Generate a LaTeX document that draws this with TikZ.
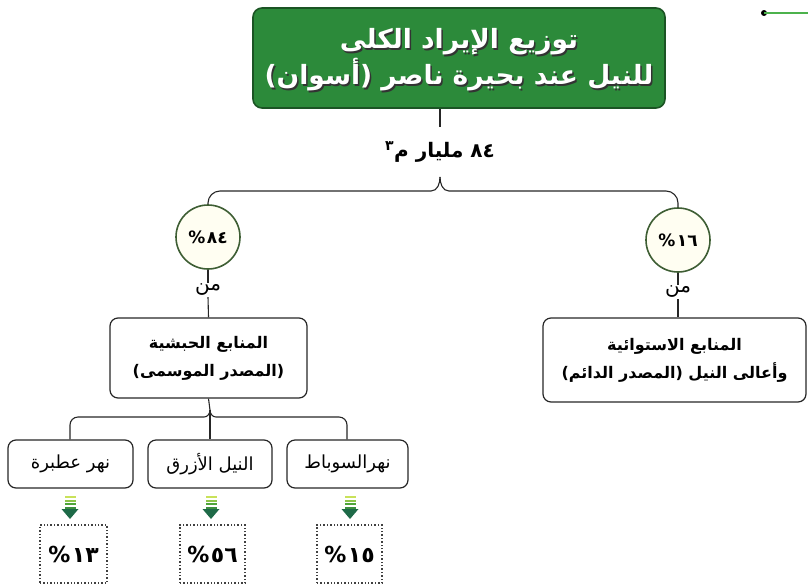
\documentclass[tikz,border=0pt]{standalone}
\usepackage{fontspec}
\TeXXeTstate=1
\newfontfamily\ar[Script=Arabic]{DejaVu Sans}
\newcommand{\RL}[1]{\beginR #1\endR}
\newcommand{\pctnum}[1]{\hbox{\%}\kern1.5pt\hbox{#1}}
\definecolor{titlegreen}{HTML}{2C8A3A}
\definecolor{titleedge}{HTML}{1B5424}
\definecolor{ringgreen}{HTML}{3E5E34}
\definecolor{arrowtop}{HTML}{C9E25A}
\definecolor{arrowmid}{HTML}{4FA53A}
\definecolor{arrowhead}{HTML}{1E6A48}
\begin{document}
\begin{tikzpicture}[x=1pt,y=-1pt,
  conn/.style={draw=black!85, line width=1.1pt},
  titlebox/.style={draw=titleedge, fill=titlegreen, rounded corners=9pt, line width=1.6pt, minimum width=412pt, minimum height=100pt},
  titletext/.style={align=center, font=\ar\bfseries\fontsize{26.5}{36}\selectfont, inner sep=0pt},
  pctc/.style={circle, draw=ringgreen, line width=1.6pt, fill=yellow!5, minimum size=64pt, inner sep=0pt, font=\ar\bfseries\fontsize{17}{20}\selectfont},
  mintext/.style={font=\ar\fontsize{20}{22}\selectfont, inner sep=1pt},
  srcbox/.style={draw=black!85, rounded corners=8pt, line width=1.2pt, align=center, font=\ar\bfseries\fontsize{16}{28}\selectfont},
  rivbox/.style={draw=black!85, rounded corners=8pt, line width=1.2pt, minimum height=48pt, font=\ar\fontsize{18}{20}\selectfont},
  dotbox/.style={draw=black!75, dotted, line width=1.4pt, minimum height=58pt, font=\ar\bfseries\fontsize{22}{24}\selectfont}
]
\useasboundingbox (0,0) rectangle (808,584);

% title
\node[titlebox] (title) at (459,58) {};
\node[titletext, text=black!80] (titleshadow) at (460.5,61.5) {\RL{توزيع الإيراد الكلى}\\\RL{للنيل عند بحيرة ناصر (أسوان)}};
\node[titletext, text=white] (titlet) at (459,60) {\RL{توزيع الإيراد الكلى}\\\RL{للنيل عند بحيرة ناصر (أسوان)}};

% total
\coordinate (tip) at (440,177);
\coordinate (titlelow) at (440,127);
\draw[conn] (tip |- title.south) -- (titlelow);
\node[font=\ar\bfseries\fontsize{20}{24}\selectfont] (total) at (440,152) {\RL{٨٤ مليار م\textsuperscript{٣}}};

% circles
\node[pctc] (c84) at (208,237) {\pctnum{٨٤}};
\node[pctc] (c16) at (678,240) {\pctnum{١٦}};
\draw[conn] (tip) to[out=-90,in=0] (431,191) [rounded corners=12pt] -- (208,191) -- (c84.north);
\draw[conn] (tip) to[out=-90,in=180] (449,191) [rounded corners=12pt] -- (678,191) -- (c16.north);

% min
\node[mintext] (m1) at (208,290) {\RL{من}};
\node[mintext] (m2) at (678,292) {\RL{من}};
\draw[conn] (c84.south) -- (m1.north);
\draw[conn] (c16.south) -- (m2.north);

% source boxes
\node[srcbox, minimum width=197pt, minimum height=80pt] (abys) at (208.5,358) {\RL{المنابع الحبشية}\\\RL{(المصدر الموسمى)}};
\node[srcbox, minimum width=263pt, minimum height=84pt] (equat) at (674.5,360) {\RL{المنابع الاستوائية}\\\RL{وأعالى النيل (المصدر الدائم)}};
\draw[conn] (m1.south) -- (abys.north);
\draw[conn] (m2.south) -- (equat.north -| m2.south);

% rivers
\node[rivbox, minimum width=125pt] (atbara) at (70.5,464) {\RL{نهر عطبرة}};
\node[rivbox, minimum width=124pt] (blue) at (210,464) {\RL{النيل الأزرق}};
\node[rivbox, minimum width=121pt] (sobat) at (347.5,464) {\RL{نهرالسوباط}};
\coordinate (tip2) at (210,410);
\draw[conn] (abys.south) -- (tip2);
\draw[conn] (tip2) to[out=-90,in=0] (204,417) [rounded corners=8pt] -- (70,417) -- (atbara.north -| 70,0);
\draw[conn] (tip2) to[out=-90,in=180] (216,417) [rounded corners=8pt] -- (347,417) -- (sobat.north -| 347,0);
\draw[conn] (tip2) -- (blue.north);

% percentages
\node[dotbox, minimum width=67pt] (p13) at (73.5,554) {\pctnum{١٣}};
\node[dotbox, minimum width=65pt] (p56) at (212.5,554) {\pctnum{٥٦}};
\node[dotbox, minimum width=65pt] (p15) at (349.5,554) {\pctnum{١٥}};

% arrows
\foreach \ax in {70,211,350}{
  \fill[arrowtop] (\ax-5.5,496) rectangle (\ax+5.5,498);
  \fill[arrowtop!50!arrowmid] (\ax-5.5,499.5) rectangle (\ax+5.5,501.5);
  \fill[arrowmid] (\ax-5.5,503) rectangle (\ax+5.5,505);
  \fill[arrowmid!60!arrowhead] (\ax-5.5,506.5) rectangle (\ax+5.5,509);
  \fill[arrowhead] (\ax-8.5,509) -- (\ax+8.5,509) -- (\ax,519) -- cycle;
}

% stray mark top right
\fill[black] (764,13) circle (3pt);
\draw[green!40!gray, line width=1.2pt] (764,13) -- (808,13);
\end{tikzpicture}
\end{document}
